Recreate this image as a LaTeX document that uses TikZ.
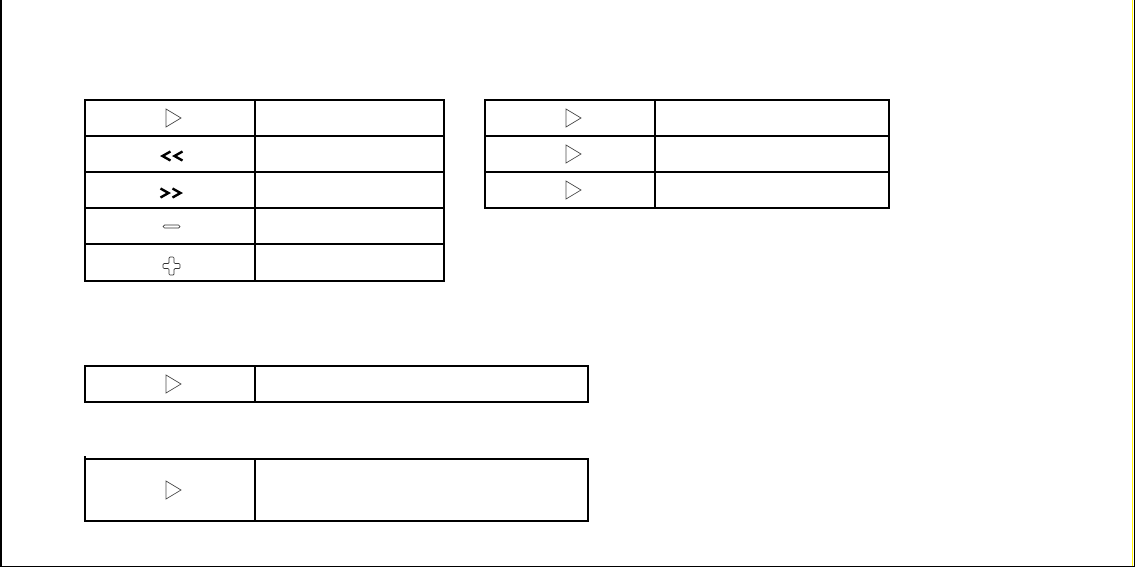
\documentclass[tikz,border=0pt]{standalone}
\usepackage{tikz}
\usetikzlibrary{positioning}

\tikzset{
    cell/.style={draw, line width=1.3pt, inner sep=0pt, outer sep=0pt, minimum height=36pt},
    keycell/.style={cell, minimum width=170pt},
    play/.pic={\draw[black!70, line width=0.7pt] (-4,-9) -- (11,0) -- (-4,9) -- cycle;},
    rewind/.pic={\draw[line width=2.4pt] (0.5,-2.5) -- (-7.5,2) -- (0.5,6.5);
                 \draw[line width=2.4pt] (12.5,-2.5) -- (4.5,2) -- (12.5,6.5);},
    forward/.pic={\draw[line width=2.4pt] (-9.5,-1.5) -- (-1.5,3) -- (-9.5,7.5);
                  \draw[line width=2.4pt] (2.5,-1.5) -- (10.5,3) -- (2.5,7.5);},
    zoomout/.pic={\draw[black!80, line width=0.7pt, rounded corners=1.5pt] (-7,-1) rectangle (10,2);},
    zoomin/.pic={\draw[black!80, line width=0.7pt, rounded corners=1pt]
                 (-1,-5.5) -- (4,-5.5) -- (4,1) -- (10,1) -- (10,6) -- (4,6) -- (4,12.5)
                 -- (-1,12.5) -- (-1,6) -- (-7,6) -- (-7,1) -- (-1,1) -- cycle;}
}

\begin{document}
\begin{tikzpicture}[x=1pt, y=-1pt]
        \useasboundingbox (0,0) rectangle (1135,568);

        % frame
        \draw[line width=1.5pt] (0.75,0) -- (0.75,566.5) -- (1134.3,566.5) -- (1134.3,0);
        \draw[yellow, line width=1.2pt] (1132.8,0) -- (1132.8,565.6);

        % controls table
        \node[keycell, anchor=north west] (play) at (85,100) {};
        \node[keycell, below=0pt of play] (back) {};
        \node[keycell, below=0pt of back] (ahead) {};
        \node[keycell, below=0pt of ahead] (minus) {};
        \node[keycell, below=0pt of minus, minimum height=37pt] (plus) {};
        \node[cell, minimum width=189pt, right=0pt of play]  (playText)  {};
        \node[cell, minimum width=189pt, right=0pt of back]  (backText)  {};
        \node[cell, minimum width=189pt, right=0pt of ahead] (aheadText) {};
        \node[cell, minimum width=189pt, right=0pt of minus] (minusText) {};
        \node[cell, minimum width=189pt, minimum height=37pt, right=0pt of plus] (plusText) {};

        \pic at (play)  {play};
        \pic at (back)  {rewind};
        \pic at (ahead) {forward};
        \pic at (minus) {zoomout};
        \pic at (plus)  {zoomin};

        % play table
        \node[keycell, anchor=north west] (playA) at (485,100) {};
        \node[keycell, below=0pt of playA] (playB) {};
        \node[keycell, below=0pt of playB] (playC) {};
        \node[cell, minimum width=234pt, right=0pt of playA] (playAText) {};
        \node[cell, minimum width=234pt, right=0pt of playB] (playBText) {};
        \node[cell, minimum width=234pt, right=0pt of playC] (playCText) {};

        \pic at (playA) {play};
        \pic at (playB) {play};
        \pic at (playC) {play};

        % single rows
        \node[keycell, anchor=north west] (single) at (85,366) {};
        \node[cell, minimum width=333pt, right=0pt of single] (singleText) {};
        \pic at (single) {play};

        \node[keycell, anchor=north west, minimum height=62pt] (tall) at (85,459) {};
        \node[cell, minimum width=333pt, minimum height=62pt, right=0pt of tall] (tallText) {};
        \draw[line width=1.3pt] (tall.north west) -- ++(0,-3);
        \pic at (tall) {play};
    \end{tikzpicture}
\end{document}
